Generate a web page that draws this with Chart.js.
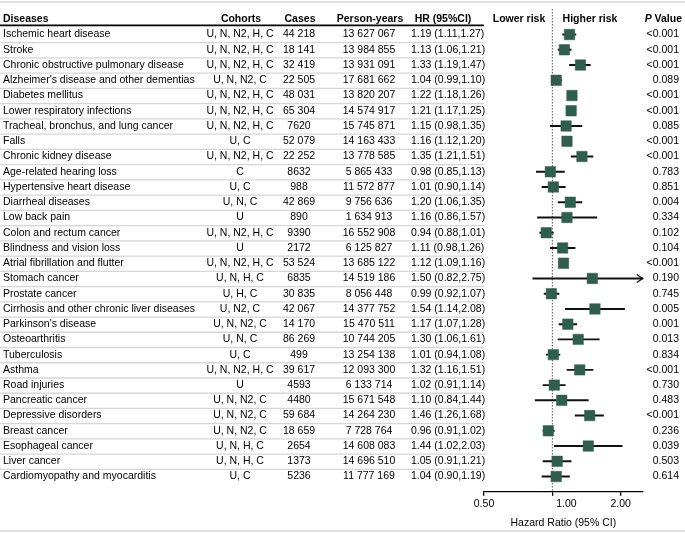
<!DOCTYPE html>
<html>
<head>
<meta charset="utf-8">
<script src="https://cdn.jsdelivr.net/npm/chart.js@4.4.1/dist/chart.umd.min.js"></script>
<style>
  html, body { margin: 0; padding: 0; background: #fff; }
  #wrap { width: 685px; height: 533px; position: relative; }
</style>
</head>
<body>
<div id="wrap"><canvas id="forest"></canvas></div>
<script>
/* ── DATA ── */
const diseases = [
  "Ischemic heart disease", "Stroke", "Chronic obstructive pulmonary disease",
  "Alzheimer's disease and other dementias", "Diabetes mellitus", "Lower respiratory infections",
  "Tracheal, bronchus, and lung cancer", "Falls", "Chronic kidney disease",
  "Age-related hearing loss", "Hypertensive heart disease", "Diarrheal diseases",
  "Low back pain", "Colon and rectum cancer", "Blindness and vision loss",
  "Atrial fibrillation and flutter", "Stomach cancer", "Prostate cancer",
  "Cirrhosis and other chronic liver diseases", "Parkinson's disease", "Osteoarthritis",
  "Tuberculosis", "Asthma", "Road injuries", "Pancreatic cancer", "Depressive disorders",
  "Breast cancer", "Esophageal cancer", "Liver cancer", "Cardiomyopathy and myocarditis"
];
const cohorts = [
  "U, N, N2, H, C", "U, N, N2, H, C", "U, N, N2, H, C", "U, N, N2, C", "U, N, N2, H, C",
  "U, N, N2, H, C", "U, N, N2, H, C", "U, C", "U, N, N2, H, C", "C", "U, C", "U, N, C",
  "U", "U, N, N2, H, C", "U", "U, N, N2, H, C", "U, N, H, C", "U, H, C", "U, N2, C",
  "U, N, N2, C", "U, N, C", "U, C", "U, N, N2, H, C", "U", "U, N, N2, C", "U, N, N2, C",
  "U, N, N2, C", "U, N, H, C", "U, N, H, C", "U, C"
];
const cases = [
  44218, 18141, 32419, 22505, 48031, 65304, 7620, 52079, 22252, 8632, 988, 42869, 890, 9390,
  2172, 53524, 6835, 30835, 42067, 14170, 86269, 499, 39617, 4593, 4480, 59684, 18659, 2654,
  1373, 5236
];
const personYears = [
  13627067, 13984855, 13931091, 17681662, 13820207, 14574917, 15745871, 14163433, 13778585,
  5865433, 11572877, 9756636, 1634913, 16552908, 6125827, 13685122, 14519186, 8056448,
  14377752, 15470511, 10744205, 13254138, 12093300, 6133714, 15671548, 14264230, 7728764,
  14608083, 14696510, 11777169
];
const hr = [
  1.19, 1.13, 1.33, 1.04, 1.22, 1.21, 1.15, 1.16, 1.35, 0.98, 1.01, 1.20, 1.16, 0.94, 1.11,
  1.12, 1.50, 0.99, 1.54, 1.17, 1.30, 1.01, 1.32, 1.02, 1.10, 1.46, 0.96, 1.44, 1.05, 1.04
];
const ciLow = [
  1.11, 1.06, 1.19, 0.99, 1.18, 1.17, 0.98, 1.12, 1.21, 0.85, 0.90, 1.06, 0.86, 0.88, 0.98,
  1.09, 0.82, 0.92, 1.14, 1.07, 1.06, 0.94, 1.16, 0.91, 0.84, 1.26, 0.91, 1.02, 0.91, 0.90
];
const ciHigh = [
  1.27, 1.21, 1.47, 1.10, 1.26, 1.25, 1.35, 1.20, 1.51, 1.13, 1.14, 1.35, 1.57, 1.01, 1.26,
  1.16, 2.75, 1.07, 2.08, 1.28, 1.61, 1.08, 1.51, 1.14, 1.44, 1.68, 1.02, 2.03, 1.21, 1.19
];
const pValues = [
  "<0.001", "<0.001", "<0.001", "0.089", "<0.001", "<0.001", "0.085", "<0.001", "<0.001",
  "0.783", "0.851", "0.004", "0.334", "0.102", "0.104", "<0.001", "0.190", "0.745", "0.005",
  "0.001", "0.013", "0.834", "<0.001", "0.730", "0.483", "<0.001", "0.236", "0.039", "0.503",
  "0.614"
];
const xTicks = [0.5, 1, 2];
const xMin = 0.5, xMax = 2.5;

const FONT = '"Liberation Sans", Arial, Helvetica, sans-serif';
const SQUARE = "#2f5e4f";

function fmtNum(n) {
    const s = String(n);
    if (s.length <= 4) return s;
    return s.replace(/\B(?=(\d{3})+(?!\d))/g, " ");
}

/* ── TABLE + DECORATIONS ── */
function hline(ctx, x1, x2, y) {
    ctx.beginPath(); ctx.moveTo(x1, y); ctx.lineTo(x2, y); ctx.stroke();
}

const refLine = {
    id: "refLine",
    beforeDatasetsDraw(chart) {
        const { ctx, chartArea, scales: { x } } = chart;
        const px = x.getPixelForValue(1);
        ctx.save();
        ctx.strokeStyle = "#555";
        ctx.lineWidth = 1;
        ctx.setLineDash([1.5, 1.5]);
        ctx.beginPath(); ctx.moveTo(px, 9); ctx.lineTo(px, chartArea.bottom); ctx.stroke();
        ctx.restore();
    }
};

const tablePlugin = {
    id: "table",
    afterDraw(chart) {
        const { ctx, chartArea, width, height, scales: { x, y } } = chart;
        const tableRight = 484;
        ctx.save();

        // light rules
        ctx.strokeStyle = "#d6d6d6";
        ctx.lineWidth = 1.3;
        hline(ctx, 0, width, 2);
        hline(ctx, 0, width, height - 2);
        for (let i = 0; i < diseases.length - 1; i++) {
            const yy = (y.getPixelForValue(i) + y.getPixelForValue(i + 1)) / 2 + 0.5;
            hline(ctx, 0, tableRight, yy);
        }
        // header rule
        ctx.strokeStyle = "#000";
        ctx.lineWidth = 1.8;
        hline(ctx, 0, tableRight, y.getPixelForValue(-0.6));

        // header
        const hy = y.getPixelForValue(-1);
        ctx.fillStyle = "#000";
        ctx.textBaseline = "middle";
        ctx.font = "bold 10.5px " + FONT;
        ctx.textAlign = "left";   ctx.fillText("Diseases", 3, hy);
        ctx.textAlign = "center";
        ctx.fillText("Cohorts", 241, hy);
        ctx.fillText("Cases", 300, hy);
        ctx.fillText("Person-years", 370, hy);
        ctx.fillText("HR (95%CI)", 443, hy);
        ctx.fillText("Lower risk", 519, hy);
        ctx.fillText("Higher risk", 590, hy);
        ctx.textAlign = "right";
        ctx.fillText(" Value", 682, hy);
        const vw = ctx.measureText(" Value").width;
        ctx.font = "italic bold 10.5px " + FONT;
        ctx.fillText("P", 682 - vw, hy);

        // rows
        ctx.font = "10.5px " + FONT;
        diseases.forEach((d, i) => {
            const ry = y.getPixelForValue(i);
            ctx.textAlign = "left";
            ctx.fillText(d, 3, ry);
            ctx.textAlign = "center";
            ctx.fillText(cohorts[i], 240, ry);
            ctx.fillText(fmtNum(cases[i]), 299, ry);
            ctx.fillText(fmtNum(personYears[i]), 369, ry);
            ctx.textAlign = "left";
            ctx.fillText(`${hr[i].toFixed(2)} (${ciLow[i].toFixed(2)},${ciHigh[i].toFixed(2)})`, 411, ry);
            ctx.textAlign = "right";
            ctx.fillText(pValues[i], 679, ry);

            // arrow where the interval runs past the axis
            if (ciHigh[i] > xMax) {
                const ax = x.getPixelForValue(xMax);
                ctx.strokeStyle = "#111";
                ctx.lineWidth = 1.3;
                ctx.beginPath();
                ctx.moveTo(ax - 6, ry - 4); ctx.lineTo(ax, ry); ctx.lineTo(ax - 6, ry + 4);
                ctx.stroke();
            }
        });

        // the "1.00" label sits a little right of its tick in the original
        ctx.textAlign = "center";
        ctx.fillText("1.00", x.getPixelForValue(1) + 14, chartArea.bottom + 4 + 2 + 6.3);
        ctx.restore();
    }
};

/* ── CHART ── */
new Chart(document.getElementById("forest"), {
    type: "bar",
    data: {
        datasets: [
            {
                type: "scatter",
                data: hr.map((v, i) => ({ x: v, y: i })),
                pointStyle: "rect",
                pointRadius: 7.4,
                backgroundColor: SQUARE,
                borderColor: SQUARE,
                borderWidth: 0.5,
                order: 0
            },
            {
                type: "bar",
                data: hr.map((v, i) => ({ x: [ciLow[i], ciHigh[i]], y: i })),
                backgroundColor: "#111",
                barThickness: 1.3,
                borderSkipped: false,
                order: 1
            }
        ]
    },
    options: {
        indexAxis: "y",
        responsive: true,
        maintainAspectRatio: false,
        animation: false,
        layout: { padding: { left: 484, right: 42.3, top: 2, bottom: 2 } },
        plugins: { legend: { display: false }, tooltip: { enabled: false } },
        scales: {
            x: {
                type: "logarithmic",
                min: xMin, max: xMax,
                afterBuildTicks: s => { s.ticks = xTicks.map(v => ({ value: v })); },
                ticks: {
                    color: "#000", padding: 2, maxRotation: 0, autoSkip: false,
                    font: { family: FONT, size: 10.5 },
                    callback: v => (v === 1 ? "" : Number(v).toFixed(2))
                },
                grid: { display: true, drawOnChartArea: false, drawTicks: true, tickLength: 4, color: "#000", lineWidth: 1.3 },
                border: { display: true, color: "#000", width: 1.3 },
                title: {
                    display: true, text: "Hazard Ratio (95% CI)", color: "#000",
                    font: { family: FONT, size: 10.5 }, padding: { top: 4, bottom: 2 }
                }
            },
            y: {
                type: "linear",
                min: -1.75, max: 30,
                reverse: true,
                offset: false,
                display: false
            }
        }
    },
    plugins: [refLine, tablePlugin]
});
</script>
</body>
</html>
